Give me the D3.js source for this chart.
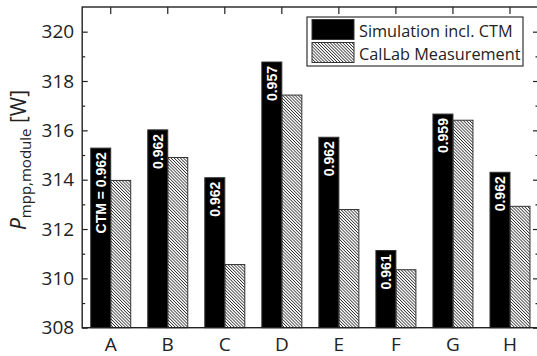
<!DOCTYPE html>
<html>
<head>
<meta charset="utf-8">
<script src="https://cdn.jsdelivr.net/npm/d3@7"></script>
<style>
	body { margin: 0; background: #fff; }
	svg { display: block; font-family: "Open Sans", sans-serif; }
</style>
</head>
<body>
<div id="chart"><svg></svg></div>
<script>
const categories = ["A", "B", "C", "D", "E", "F", "G", "H"];
const simulation = [315.28, 316.02, 314.08, 318.77, 315.72, 311.13, 316.66, 314.30];
const measurement = [313.97, 314.90, 310.56, 317.43, 312.79, 310.35, 316.41, 312.92];
const ctmLabels = ["CTM = 0.962", "0.962", "0.962", "0.957", "0.962", "0.961", "0.959", "0.962"];
const yMajor = [308, 310, 312, 314, 316, 318, 320];
const yMinor = [309, 311, 313, 315, 317, 319];
const seriesNames = ["Simulation incl. CTM", "CalLab Measurement"];

const w = 537;
const h = 356;
const plotLeft = 82.2, plotRight = 538.5, plotTop = 7, plotBottom = 327.7;

let svg = d3.select("#chart").select("svg")
			.attr("width", w)
			.attr("height", h);

// hatch for the measurement bars
let defs = svg.append("defs");
defs.append("pattern")
	.attr("id", "hatch")
	.attr("patternUnits", "userSpaceOnUse")
	.attr("width", 2.2)
	.attr("height", 10)
	.attr("patternTransform", "rotate(-45)")
	.append("line")
	.attr("x1", 0.4).attr("y1", 0)
	.attr("x2", 0.4).attr("y2", 10)
	.attr("stroke", "#222")
	.attr("stroke-width", 0.75);

let x = d3.scaleBand()
			.domain(categories)
			.range([plotLeft, plotRight]);

let y = d3.scaleLinear()
			.domain([308, 321])
			.range([plotBottom, plotTop]);

const barW = 20;
let cx = d => x(d) + x.bandwidth()/2;

/* ***bars*** */
let groups = svg.selectAll("g.grp")
				.data(categories)
				.enter()
				.append("g")
				.attr("class", "grp");

groups.append("rect")
	.attr("x", d => cx(d) - barW)
	.attr("y", (d,i) => y(simulation[i]))
	.attr("width", barW)
	.attr("height", (d,i) => y(308) - y(simulation[i]))
	.attr("fill", "#000")
	.attr("stroke", "#333")
	.attr("stroke-width", 1);

groups.append("rect")
	.attr("x", d => cx(d))
	.attr("y", (d,i) => y(measurement[i]))
	.attr("width", barW)
	.attr("height", (d,i) => y(308) - y(measurement[i]))
	.attr("fill", "url(#hatch)")
	.attr("stroke", "#333")
	.attr("stroke-width", 1);

groups.append("text")
	.attr("transform", (d,i) => `translate(${cx(d) - barW/2},${y(simulation[i]) + 4}) rotate(-90)`)
	.attr("text-anchor", "end")
	.attr("dy", "0.36em")
	.attr("fill", "#fff")
	.attr("font-family", "'Liberation Sans', Arial, sans-serif")
	.attr("font-weight", "bold")
	.attr("font-size", 14)
	.text((d,i) => ctmLabels[i]);

/* ***axes*** */
svg.append("g")
	.attr("transform", `translate(${plotLeft},0)`)
	.call(d3.axisLeft(y).tickValues(yMajor).tickSize(-5.5).tickPadding(8).tickFormat(d3.format("d")));
svg.append("g")
	.attr("transform", `translate(${plotLeft},0)`)
	.call(d3.axisLeft(y).tickValues(yMinor).tickSize(-3).tickFormat(""));
svg.append("g")
	.attr("transform", `translate(${plotRight},0)`)
	.call(d3.axisRight(y).tickValues(yMajor).tickSize(-5.5).tickFormat(""));
svg.append("g")
	.attr("transform", `translate(${plotRight},0)`)
	.call(d3.axisRight(y).tickValues(yMinor).tickSize(-3).tickFormat(""));
svg.append("g")
	.attr("transform", `translate(0,${plotTop})`)
	.call(d3.axisTop(x).tickSize(-7).tickFormat(""));
svg.append("g")
	.attr("transform", `translate(0,${plotBottom})`)
	.call(d3.axisBottom(x).tickSize(0).tickPadding(10));

svg.selectAll(".domain").remove();
svg.selectAll(".tick line").attr("stroke", "#222").attr("stroke-width", 1.2);
svg.selectAll(".tick text")
	.attr("font-family", "'Open Sans', sans-serif")
	.attr("font-size", 19)
	.attr("fill", "#222");

svg.append("rect")
	.attr("x", plotLeft)
	.attr("y", plotTop)
	.attr("width", plotRight - plotLeft)
	.attr("height", plotBottom - plotTop)
	.attr("fill", "none")
	.attr("stroke", "#222")
	.attr("stroke-width", 1.4);

/* ***y label*** */
let ylab = svg.append("text")
	.attr("transform", "translate(26,160) rotate(-90)")
	.attr("text-anchor", "middle")
	.attr("font-size", 21)
	.attr("fill", "#222");
ylab.append("tspan").attr("font-style", "italic").text("P");
ylab.append("tspan").attr("font-size", 15).attr("dy", 5).text("mpp,module");
ylab.append("tspan").attr("dy", -5).text(" [W]");

/* ***legend*** */
let legend = svg.append("g")
	.attr("class", "legend")
	.attr("transform", "translate(307,17)");

legend.append("rect")
	.attr("width", 216)
	.attr("height", 49)
	.attr("fill", "#fff")
	.attr("stroke", "#333")
	.attr("stroke-width", 1.2);

legend.selectAll("rect.sw")
	.data(seriesNames)
	.enter()
	.append("rect")
	.attr("class", "sw")
	.attr("x", 5)
	.attr("y", (d,i) => 2.5 + i*23)
	.attr("width", 42)
	.attr("height", 20)
	.attr("fill", (d,i) => i === 0 ? "#000" : "url(#hatch)")
	.attr("stroke", "#333")
	.attr("stroke-width", 1);

legend.selectAll("text")
	.data(seriesNames)
	.enter()
	.append("text")
	.attr("x", 52)
	.attr("y", (d,i) => 20 + i*23)
	.attr("font-size", 16.3)
	.attr("fill", "#222")
	.text(d => d);
</script>
</body>
</html>
